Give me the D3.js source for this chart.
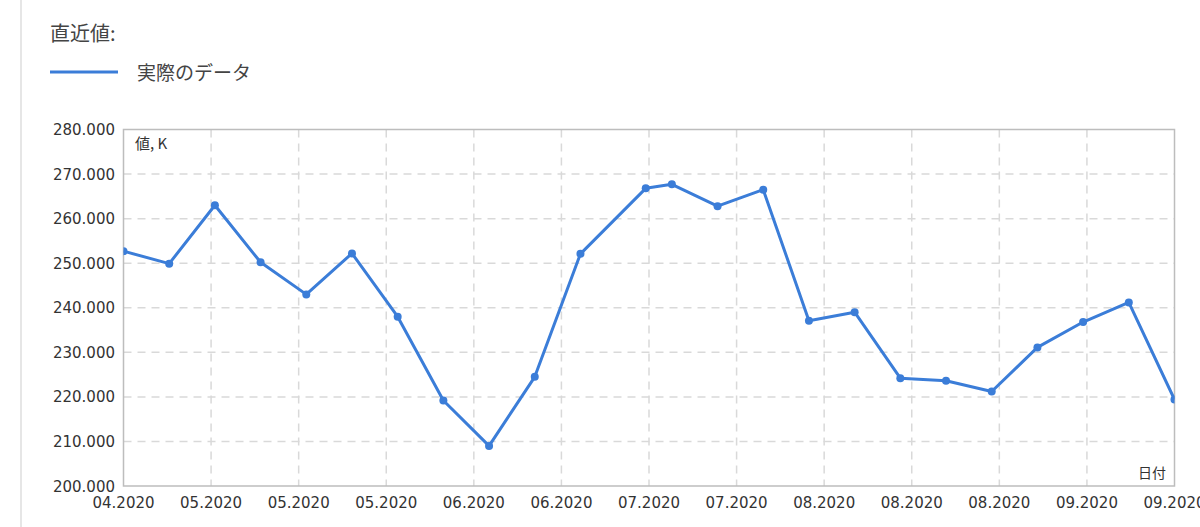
<!DOCTYPE html>
<html><head><meta charset="utf-8">
<script src="https://cdn.jsdelivr.net/npm/d3@7"></script>
<style>
html,body{margin:0;padding:0;background:#fff;}
svg{display:block;}
</style></head>
<body>
<svg id="chart" width="1200" height="527"></svg>
<script>
// Data
const dayOffsets = [0,7,14,21,28,35,42,49,56,63,70,80,84,91,98,105,112,119,126,133,140,147,154,161];
const values = [252.7,249.9,263.0,250.2,243.0,252.2,238.0,219.2,209.0,224.5,252.1,266.8,267.7,262.8,266.5,237.1,239.0,224.2,223.6,221.2,231.1,236.8,241.2,219.4];
const xTickLabels = ["04.2020","05.2020","05.2020","05.2020","06.2020","06.2020","07.2020","07.2020","08.2020","08.2020","08.2020","09.2020","09.2020"];
const yTicks = [200,210,220,230,240,250,260,270,280];
const yTickLabels = ["200.000","210.000","220.000","230.000","240.000","250.000","260.000","270.000","280.000"];
const title = "直近値:";
const seriesName = "実際のデータ";
const yAxisTitle = "値, K";
const xAxisTitle = "日付";

const svg = d3.select("#chart");
const m = {left:123.5, right:1174.5, top:129.5, bottom:486};
const color = "#3b7dd8";
const font = "'DejaVu Sans', Verdana, sans-serif";
const cjk = "'Noto Sans CJK JP', 'Noto Sans', sans-serif";

// page left border line
svg.append("line").attr("x1",21).attr("x2",21).attr("y1",0).attr("y2",527)
  .attr("stroke","#e6e6e6").attr("stroke-width",2);

// title & legend
svg.append("text").attr("x",50).attr("y",41).text(title)
  .attr("font-family",cjk).attr("font-size",20).attr("fill","#444");
svg.append("line").attr("x1",50).attr("x2",118).attr("y1",72).attr("y2",72)
  .attr("stroke",color).attr("stroke-width",3);
svg.append("text").attr("x",137).attr("y",80).text(seriesName)
  .attr("font-family",cjk).attr("font-size",19).attr("fill","#444");

const x = d3.scaleLinear().domain([0,161]).range([m.left,m.right]);
const y = d3.scaleLinear().domain([200,280]).range([m.bottom,m.top]);
const xt = d3.scaleLinear().domain([0,xTickLabels.length-1]).range([m.left,m.right]);

// grid
const g = svg.append("g");
g.selectAll(".hg").data(yTicks.slice(1,-1)).enter().append("line")
  .attr("x1",m.left).attr("x2",m.right).attr("y1",d=>y(d)).attr("y2",d=>y(d))
  .attr("stroke","#d9d9d9").attr("stroke-width",1.5).attr("stroke-dasharray","8,6");
g.selectAll(".vg").data(d3.range(1,xTickLabels.length-1)).enter().append("line")
  .attr("x1",d=>xt(d)).attr("x2",d=>xt(d)).attr("y1",m.top).attr("y2",m.bottom)
  .attr("stroke","#d9d9d9").attr("stroke-width",1.5).attr("stroke-dasharray","8,6");

// frame
svg.append("rect").attr("x",m.left).attr("y",m.top).attr("width",m.right-m.left).attr("height",m.bottom-m.top)
  .attr("fill","none").attr("stroke","#bdbdbd").attr("stroke-width",1.5);

// y labels
svg.selectAll(".yl").data(yTicks).enter().append("text")
  .attr("x",115).attr("y",d=>y(d)+5.5).attr("text-anchor","end")
  .attr("font-family",font).attr("font-size",15).attr("fill","#333")
  .text((d,i)=>yTickLabels[i]);

// x labels
svg.selectAll(".xl").data(xTickLabels).enter().append("text")
  .attr("x",(d,i)=>xt(i)).attr("y",508).attr("text-anchor","middle")
  .attr("font-family",font).attr("font-size",15).attr("fill","#333")
  .text(d=>d);

// axis titles
svg.append("text").attr("x",135).attr("y",149).text(yAxisTitle)
  .attr("font-family",cjk).attr("font-size",15).attr("fill","#333");
svg.append("text").attr("x",1166).attr("y",478).attr("text-anchor","end").text(xAxisTitle)
  .attr("font-family",cjk).attr("font-size",14).attr("fill","#333");

// line
const data = dayOffsets.map((d,i)=>({d, v:values[i]}));
svg.append("clipPath").attr("id","clip").append("rect")
  .attr("x",m.left).attr("y",m.top).attr("width",m.right-m.left).attr("height",m.bottom-m.top);
const pg = svg.append("g").attr("clip-path","url(#clip)");
pg.append("path").datum(data)
  .attr("d",d3.line().x(p=>x(p.d)).y(p=>y(p.v)))
  .attr("fill","none").attr("stroke",color).attr("stroke-width",3).attr("stroke-linejoin","round");
pg.selectAll("circle").data(data).enter().append("circle")
  .attr("cx",p=>x(p.d)).attr("cy",p=>y(p.v)).attr("r",4).attr("fill",color);
</script>
</body></html>
